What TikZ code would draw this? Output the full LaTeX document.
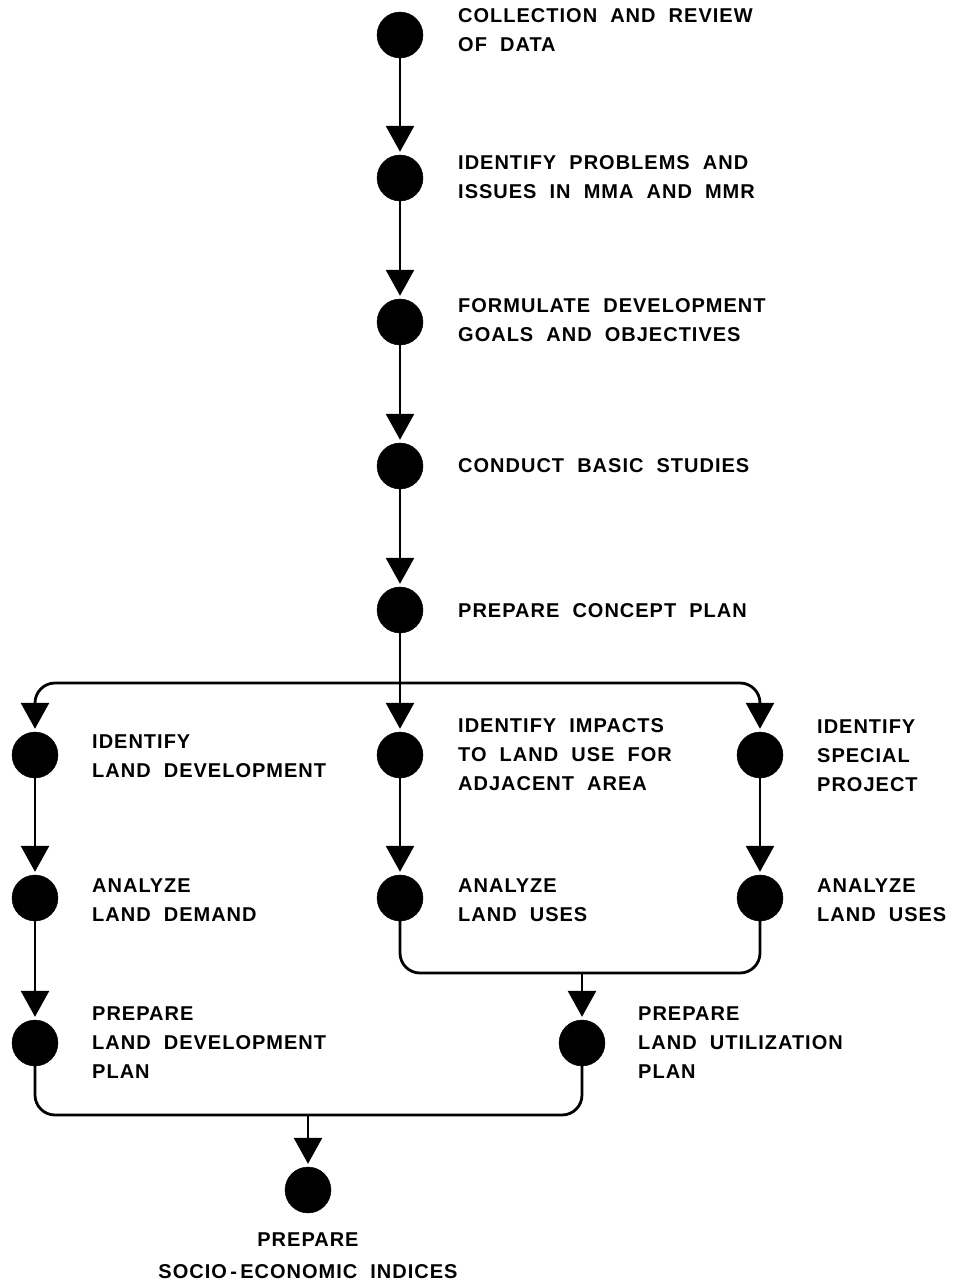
\documentclass[tikz,border=0pt]{standalone}
\usepackage{fontspec}
\setmainfont{Liberation Sans}[LetterSpace=5]
\usetikzlibrary{arrows.meta}
\tikzset{
  dot/.style={circle,fill=black,draw=black,minimum size=46pt,inner sep=0pt},
  lbl/.style={anchor=west,inner sep=0pt,align=left,font=\fontsize{20}{29}\selectfont\bfseries},
  flow/.style={line width=2.8pt,-{Triangle[width=28pt,length=26pt]},shorten >=3pt},
  link/.style={line width=2.8pt,rounded corners=20pt}
}
\begin{document}
\begin{tikzpicture}[x=1pt,y=-1pt]
\useasboundingbox (0,0) rectangle (953,1283);
% main column
\node[dot] (c1) at (400,35) {};
\node[dot] (c2) at (400,178) {};
\node[dot] (c3) at (400,322) {};
\node[dot] (c4) at (400,466) {};
\node[dot] (c5) at (400,610) {};
\node[lbl] (t1) at (458,30) {COLLECTION\ \ AND\ \ REVIEW\\OF\ \ DATA};
\node[lbl] (t2) at (458,177) {IDENTIFY\ \ PROBLEMS\ \ AND\\ISSUES\ \ IN\ \ MMA\ \ AND\ \ MMR};
\node[lbl] (t3) at (458,320) {FORMULATE\ \ DEVELOPMENT\\GOALS\ \ AND\ \ OBJECTIVES};
\node[lbl] (t4) at (458,466) {CONDUCT\ \ BASIC\ \ STUDIES};
\node[lbl] (t5) at (458,611) {PREPARE\ \ CONCEPT\ \ PLAN};
\draw[flow] (c1) -- (c2);
\draw[flow] (c2) -- (c3);
\draw[flow] (c3) -- (c4);
\draw[flow] (c4) -- (c5);
% row 6
\node[dot] (l1) at (35,755) {};
\node[dot] (m1) at (400,755) {};
\node[dot] (r1) at (760,755) {};
\node[lbl] (tl1) at (92,756) {IDENTIFY\\LAND\ \ DEVELOPMENT};
\node[lbl] (tm1) at (458,755) {IDENTIFY\ \ IMPACTS\\TO\ \ LAND\ \ USE\ \ FOR\\ADJACENT\ \ AREA};
\node[lbl] (tr1) at (817,756) {IDENTIFY\\SPECIAL\\PROJECT};
\coordinate (j1) at (400,683);
\draw[flow] (c5) -- (m1);
\draw[flow,link] (j1) -| (l1);
\draw[flow,link] (j1) -| (r1);
% row 7
\node[dot] (l2) at (35,898) {};
\node[dot] (m2) at (400,898) {};
\node[dot] (r2) at (760,898) {};
\node[lbl] (tl2) at (92,900) {ANALYZE\\LAND\ \ DEMAND};
\node[lbl] (tm2) at (458,900) {ANALYZE\\LAND\ \ USES};
\node[lbl] (tr2) at (817,900) {ANALYZE\\LAND\ \ USES};
\draw[flow] (l1) -- (l2);
\draw[flow] (m1) -- (m2);
\draw[flow] (r1) -- (r2);
% row 8
\node[dot] (l3) at (35,1043) {};
\node[dot] (p3) at (582,1043) {};
\node[lbl] (tl3) at (92,1043) {PREPARE\\LAND\ \ DEVELOPMENT\\PLAN};
\node[lbl] (tp3) at (638,1043) {PREPARE\\LAND\ \ UTILIZATION\\PLAN};
\coordinate (k1) at (760,973);
\coordinate (k2) at (582,973);
\draw[link] (m2) |- (k1) -- (r2);
\draw[flow] (l2) -- (l3);
\draw[flow] (k2) -- (p3);
% bottom
\node[dot] (s) at (308,1190) {};
\coordinate (b1) at (582,1115);
\coordinate (b2) at (308,1115);
\draw[link] (l3) |- (b1) -- (p3);
\draw[flow] (b2) -- (s);
\node[inner sep=0pt,align=center,font=\fontsize{20}{32}\selectfont\bfseries] (ts) at (308,1256) {PREPARE\\SOCIO\,-\,ECONOMIC\ \ INDICES};
\end{tikzpicture}
\end{document}
